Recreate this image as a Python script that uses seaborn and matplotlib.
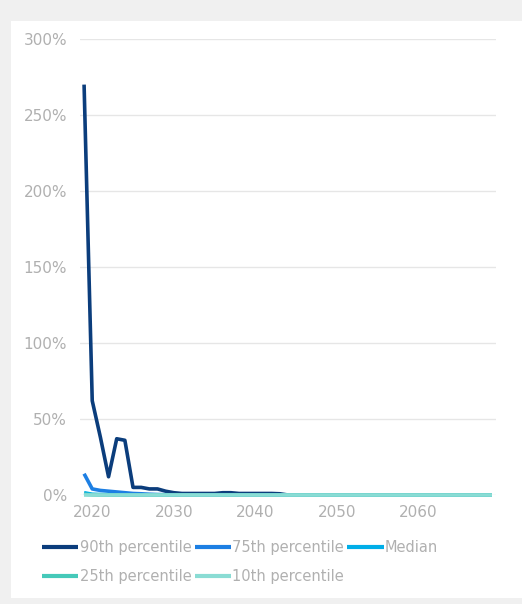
import numpy as np
import pandas as pd
import matplotlib
matplotlib.use("Agg")
import matplotlib.pyplot as plt
from matplotlib.patches import Rectangle
import seaborn as sns

years = list(range(2019, 2070))
p90 = [270, 62, 38, 12, 37, 36, 5, 5, 4, 4, 2.5, 1.5, 1, 1, 1, 1, 1, 1.5, 1.5, 1, 1, 1, 1, 1, 0.8, 0] + [0] * 25
p75 = [14, 4, 3, 2.5, 2, 1.5, 1, 0.8, 0.5, 0.3, 0.2] + [0] * 40
median = [1.5, 0.5, 0.3, 0.2, 0.1] + [0] * 46
p25 = [0.5, 0.1] + [0] * 49
p10 = [0] * 51

series_names = ["90th percentile", "75th percentile", "Median", "25th percentile", "10th percentile"]
series_values = [p90, p75, median, p25, p10]
colors = ["#0b3d7c", "#1d7fe3", "#00aee8", "#45c9b9", "#8adcd4"]
y_ticks = [0, 50, 100, 150, 200, 250, 300]
y_tick_labels = ["0%", "50%", "100%", "150%", "200%", "250%", "300%"]
x_ticks = [2020, 2030, 2040, 2050, 2060]

rows = []
for name, vals in zip(series_names, series_values):
    for yr, v in zip(years, vals):
        rows.append({"Year": yr, "Value": v, "Series": name})
df = pd.DataFrame(rows)

sns.set_theme(style="white")
plt.rcParams["font.family"] = ["DejaVu Sans"]

fig = plt.figure(figsize=(5.22, 6.04), dpi=100)
fig.patch.set_facecolor("#f0f0f0")
fig.patches.append(Rectangle((11 / 522, 6 / 604), 1.0, (598 - 21) / 604,
                             transform=fig.transFigure, facecolor="white",
                             edgecolor="none", zorder=-10))
ax = fig.add_axes([80 / 522, 1 - 495 / 604, (496 - 80) / 522, (495 - 39) / 604])
ax.set_facecolor("none")
ax.set_zorder(1)

sns.lineplot(data=df, x="Year", y="Value", hue="Series", hue_order=series_names,
             palette=colors, linewidth=2.6, ax=ax, legend=True)
for ln in ax.lines:
    ln.set_clip_on(False)
    ln.set_solid_capstyle("butt")

ax.set_xlim(2018.5, 2069.5)
ax.set_ylim(0, 300)
ax.set_yticks(y_ticks)
ax.set_yticklabels(y_tick_labels)
ax.set_xticks(x_ticks)
ax.set_xticklabels([str(x) for x in x_ticks])
ax.grid(axis="y", color="#e6e6e6", linewidth=1)
ax.grid(axis="x", visible=False)
ax.set_axisbelow(True)
for s in ax.spines.values():
    s.set_visible(False)
ax.tick_params(axis="both", colors="#b0b0b0", labelsize=11, length=0)
ax.tick_params(axis="y", pad=9.4)
ax.tick_params(axis="x", pad=7)
ax.set_xlabel("")
ax.set_ylabel("")

handles, labels = ax.get_legend_handles_labels()
ax.get_legend().remove()
order = [0, 3, 1, 4, 2]
leg = fig.legend([handles[i] for i in order], [labels[i] for i in order],
                 loc="upper left", bbox_to_anchor=(42 / 522, 1 - 540 / 604),
                 ncol=3, frameon=False, fontsize=10.5, handlelength=2.5,
                 handletextpad=0.1, columnspacing=0.2, labelspacing=0.95,
                 borderaxespad=0, borderpad=0)
for t in leg.get_texts():
    t.set_color("#b0b0b0")
for h in leg.get_lines():
    h.set_linewidth(3)

fig.savefig("out.png", dpi=100, facecolor=fig.get_facecolor())
